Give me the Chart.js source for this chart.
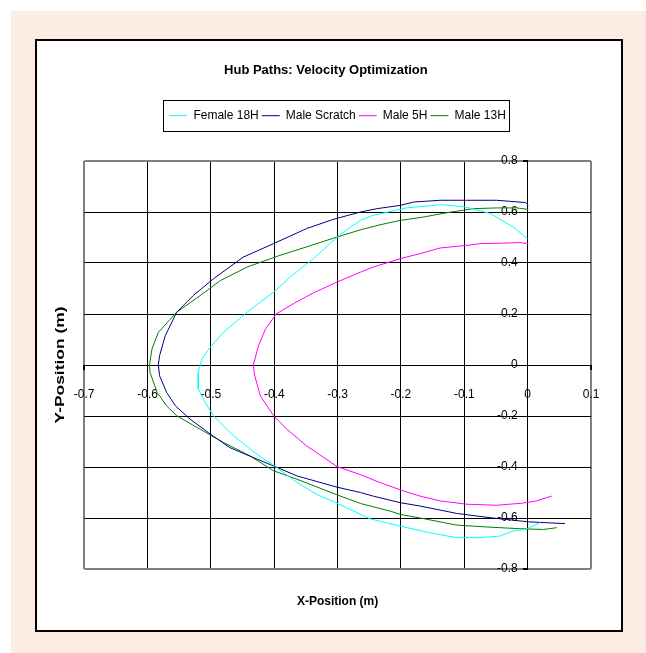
<!DOCTYPE html>
<html>
<head>
<meta charset="utf-8">
<script src="https://cdn.jsdelivr.net/npm/chart.js@4"></script>
<style>
body { margin: 0; width: 646px; height: 653px; overflow: hidden; background: #fff; position: relative; }
#peach { position: absolute; left: 11px; top: 11px; width: 635px; height: 642px; background: #fdece2; }
#frame { position: absolute; left: 35px; top: 39px; width: 584px; height: 589px; border: 2px solid #000; background: #fff; }
#myChart { position: absolute; left: 0; top: 0; }
</style>
</head>
<body>
<div id="peach"></div>
<div id="frame"></div>
<canvas id="myChart" width="646" height="653"></canvas>
<script>
const seriesNames = ['Female 18H', 'Male Scratch', 'Male 5H', 'Male 13H'];
const seriesColors = ['#00ffff', '#000080', '#ff00ff', '#008000'];

// hub paths (metres)
const female18X = [0.000, -0.023, -0.059, -0.099, -0.136, -0.191, -0.244, -0.264, -0.296, -0.338, -0.375, -0.401, -0.443, -0.480, -0.501, -0.514, -0.520, -0.520, -0.509, -0.496, -0.470, -0.438, -0.420, -0.396, -0.364, -0.333, -0.296, -0.249, -0.201, -0.154, -0.112, -0.075, -0.044, -0.023, -0.004, 0.020];
const female18Y = [0.495, 0.541, 0.594, 0.620, 0.629, 0.616, 0.587, 0.567, 0.512, 0.417, 0.345, 0.286, 0.207, 0.128, 0.070, 0.024, -0.029, -0.094, -0.147, -0.199, -0.265, -0.330, -0.363, -0.402, -0.461, -0.507, -0.548, -0.603, -0.632, -0.658, -0.677, -0.677, -0.671, -0.651, -0.645, -0.618];

const scratchX = [0.001, -0.003, -0.028, -0.049, -0.096, -0.138, -0.180, -0.201, -0.238, -0.264, -0.307, -0.349, -0.401, -0.449, -0.496, -0.528, -0.554, -0.572, -0.581, -0.583, -0.581, -0.570, -0.556, -0.533, -0.501, -0.470, -0.433, -0.399, -0.364, -0.301, -0.264, -0.244, -0.201, -0.170, -0.112, -0.059, 0.001, 0.059];
const scratchY = [0.626, 0.637, 0.642, 0.646, 0.646, 0.646, 0.639, 0.626, 0.613, 0.600, 0.571, 0.535, 0.476, 0.423, 0.338, 0.272, 0.207, 0.115, 0.037, 0.000, -0.042, -0.107, -0.160, -0.212, -0.271, -0.324, -0.363, -0.398, -0.435, -0.479, -0.500, -0.514, -0.540, -0.553, -0.582, -0.599, -0.615, -0.622];

const male5X = [0.001, -0.012, -0.038, -0.075, -0.096, -0.138, -0.165, -0.201, -0.244, -0.264, -0.301, -0.338, -0.370, -0.397, -0.414, -0.425, -0.433, -0.431, -0.422, -0.401, -0.380, -0.349, -0.301, -0.264, -0.233, -0.196, -0.170, -0.138, -0.096, -0.049, -0.009, 0.014, 0.038];
const male5Y = [0.476, 0.480, 0.478, 0.476, 0.469, 0.459, 0.440, 0.417, 0.384, 0.364, 0.325, 0.283, 0.240, 0.200, 0.140, 0.075, 0.000, -0.040, -0.121, -0.199, -0.252, -0.317, -0.398, -0.430, -0.461, -0.494, -0.514, -0.533, -0.546, -0.550, -0.542, -0.533, -0.514];

const male13X = [0.001, -0.017, -0.049, -0.086, -0.128, -0.165, -0.201, -0.233, -0.264, -0.307, -0.349, -0.391, -0.443, -0.485, -0.517, -0.554, -0.583, -0.593, -0.597, -0.596, -0.585, -0.570, -0.554, -0.517, -0.480, -0.438, -0.401, -0.364, -0.301, -0.264, -0.217, -0.201, -0.159, -0.112, -0.059, -0.012, 0.025, 0.046];
const male13Y = [0.610, 0.616, 0.616, 0.613, 0.597, 0.580, 0.567, 0.550, 0.530, 0.497, 0.463, 0.430, 0.384, 0.331, 0.272, 0.207, 0.128, 0.063, 0.000, -0.030, -0.107, -0.160, -0.199, -0.252, -0.304, -0.357, -0.415, -0.448, -0.509, -0.543, -0.573, -0.586, -0.605, -0.628, -0.636, -0.642, -0.645, -0.638];

const xMin = -0.7, xMax = 0.1, xStep = 0.1;
const yMin = -0.8, yMax = 0.8, yStep = 0.2;
// y labels sit a little left of the x=0 axis line
const yLabelAt = -0.0158;

function toPoints(xs, ys) {
    return xs.map(function (x, i) { return {x: x, y: ys[i]}; });
}

function isEdge(c, lo, hi) {
    const v = c.tick ? c.tick.value : 0;
    return Math.abs(v - lo) < 1e-6 || Math.abs(v - hi) < 1e-6;
}

// box drawn round the legend, like the spreadsheet one
const legendFrame = {
    id: 'legendFrame',
    afterDraw(chart) {
        const boxes = chart.legend.legendHitBoxes;
        const first = boxes[0];
        const last = boxes[boxes.length - 1];
        const cy = first.top + first.height / 2;
        const ctx = chart.ctx;
        const l = Math.round(first.left - 6) + 0.5;
        const r = Math.round(last.left + last.width + 3) + 0.5;
        const t = Math.round(cy - 15.5) + 0.5;
        const b = Math.round(cy + 15.5) + 0.5;
        ctx.save();
        ctx.strokeStyle = '#000';
        ctx.lineWidth = 1;
        ctx.strokeRect(l, t, r - l, b - t);
        ctx.restore();
    }
};

// the rotated y title is drawn stretched along its length in the original
const wideYTitle = {
    id: 'wideYTitle',
    afterUpdate(chart) {
        const s = chart.scales.yt;
        if (!s || s._wide) return;
        const orig = s.drawTitle;
        s.drawTitle = function () {
            const c = chart.ctx;
            const mid = (s.top + s.bottom) / 2;
            c.save();
            c.translate(0, mid);
            c.scale(1, 1.45);
            c.translate(0, -mid);
            orig.call(s);
            c.restore();
        };
        s._wide = true;
    }
};

Chart.defaults.font.family = "'Liberation Sans', Arial, sans-serif";
Chart.defaults.font.size = 12;
Chart.defaults.color = '#000';

const allX = [female18X, scratchX, male5X, male13X];
const allY = [female18Y, scratchY, male5Y, male13Y];

const datasets = seriesNames.map(function (name, i) {
    return {
        label: name,
        data: toPoints(allX[i], allY[i]),
        borderColor: seriesColors[i],
        backgroundColor: seriesColors[i],
        borderWidth: 1,
        showLine: true,
        pointRadius: 0,
        xAxisID: 'x',
        yAxisID: 'y'
    };
});

const ctx = document.getElementById('myChart');

window.myChart = new Chart(ctx, {
    type: 'scatter',
    data: { datasets: datasets },
    plugins: [legendFrame, wideYTitle],
    options: {
        responsive: false,
        animation: false,
        devicePixelRatio: 1,
        layout: { padding: { left: 60.8, right: 55, top: 62.2, bottom: 39.8 } },
        plugins: {
            title: {
                display: true,
                text: 'Hub Paths: Velocity Optimization',
                font: { size: 13, weight: 'bold' },
                color: '#000',
                padding: { top: 0, bottom: 28.9 }
            },
            legend: {
                fullSize: false,
                labels: {
                    usePointStyle: true,
                    pointStyle: 'line',
                    pointStyleWidth: 18,
                    padding: 3,
                    color: '#000'
                }
            },
            tooltip: { enabled: false }
        },
        scales: {
            x: {
                type: 'linear',
                position: { y: 0 },
                min: xMin,
                max: xMax,
                ticks: { stepSize: xStep, padding: 17, color: '#000' },
                border: { display: false },
                grid: {
                    color: function (c) { return isEdge(c, xMin, xMax) ? '#808080' : '#000'; },
                    lineWidth: function (c) { return isEdge(c, xMin, xMax) ? 2 : 1; },
                    tickColor: '#000',
                    tickLength: 5
                }
            },
            y: {
                type: 'linear',
                position: { x: 0 },
                min: yMin,
                max: yMax,
                ticks: { stepSize: yStep, display: false },
                border: { display: false },
                grid: {
                    color: function (c) { return isEdge(c, yMin, yMax) ? '#808080' : '#000'; },
                    lineWidth: function (c) { return isEdge(c, yMin, yMax) ? 2 : 1; },
                    tickColor: '#000',
                    tickLength: 5
                }
            },
            yl: {
                type: 'linear',
                position: { x: yLabelAt },
                min: yMin,
                max: yMax,
                ticks: { stepSize: yStep, padding: 0, color: '#000' },
                border: { display: false },
                grid: { display: false, drawTicks: false }
            },
            xt: {
                type: 'linear',
                position: 'bottom',
                ticks: { display: false },
                grid: { display: false, drawTicks: false },
                border: { display: false },
                title: {
                    display: true,
                    text: 'X-Position (m)',
                    font: { size: 12, weight: 'bold' },
                    color: '#000',
                    padding: { top: 25.8, bottom: 4 }
                }
            },
            yt: {
                type: 'linear',
                position: 'left',
                ticks: { display: false },
                grid: { display: false, drawTicks: false },
                border: { display: false },
                title: {
                    display: true,
                    text: 'Y-Position (m)',
                    font: { size: 12, weight: 'bold' },
                    color: '#000',
                    padding: { top: -7, bottom: 16 }
                }
            },
            xtop: {
                type: 'linear',
                position: 'top',
                ticks: { display: false },
                grid: { display: false, drawTicks: false },
                border: { display: false },
                title: {
                    display: true,
                    text: '',
                    padding: { top: 0, bottom: 14.9 }
                }
            }
        }
    }
});
</script>
</body>
</html>
